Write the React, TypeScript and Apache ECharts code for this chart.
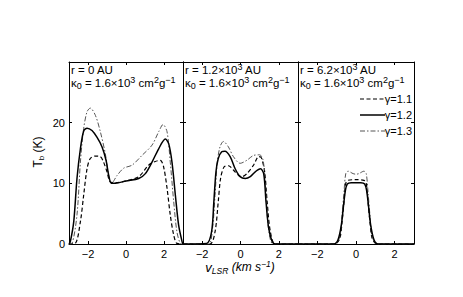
import React, { useEffect, useRef } from "react";
import * as echarts from "echarts";

// ---- data ----
const X_TICKS = [-2, 0, 2];
const Y_TICKS = [0, 10, 20];
const GAMMA_LABELS = ["γ=1.1", "γ=1.2", "γ=1.3"];

// Panel 1: r = 0 AU
const v0_g11 = [-3, -2.67, -2.4, -2.23, -2.05, -1.88, -1.61, -1.35, -1.18, -1.0, -0.82, -0.56, 0, 0.67, 1.19, 1.54, 1.81, 1.98, 2.16, 2.33, 2.51, 2.68, 3];
const t0_g11 = [0, 0.1, 3.7, 8.0, 12.4, 14.1, 14.5, 14.4, 13.5, 11.9, 10.2, 10.1, 10.4, 11.1, 13.0, 13.6, 13.8, 12.7, 9.2, 4.8, 1.5, 0.1, 0];
const v0_g12 = [-3, -2.93, -2.75, -2.58, -2.4, -2.23, -2.05, -1.79, -1.53, -1.26, -1.05, -0.91, -0.77, -0.56, 0, 0.67, 1.02, 1.37, 1.72, 2.07, 2.25, 2.42, 2.6, 2.77, 2.95, 3];
const t0_g12 = [0, 0.4, 3.7, 10.8, 15.7, 18.6, 19.1, 18.7, 17.6, 16.0, 13.8, 11.3, 10.0, 10.0, 10.4, 10.8, 11.6, 13.5, 15.7, 17.3, 16.5, 13.5, 8.0, 3.1, 0.4, 0];
const v0_g13 = [-3, -2.84, -2.58, -2.4, -2.23, -2.05, -1.88, -1.61, -1.35, -1.09, -0.91, -0.74, -0.47, -0.12, 0.32, 0.84, 1.37, 1.72, 1.95, 2.16, 2.33, 2.51, 2.68, 2.86, 3];
const t0_g13 = [0, 0.1, 4.8, 13.5, 19.0, 21.8, 22.4, 21.2, 18.5, 14.9, 11.3, 10.1, 11.3, 12.5, 13.0, 14.6, 16.3, 18.5, 19.7, 18.5, 13.5, 7.0, 2.0, 0.1, 0];

// Panel 2: r = 1.2e3 AU
const v1_g11 = [-3, -1.6, -1.33, -1.16, -1.04, -0.86, -0.63, -0.37, -0.1, 0.07, 0.33, 0.68, 0.95, 1.09, 1.26, 1.39, 1.56, 1.82, 3];
const t1_g11 = [0, 0, 2.0, 7.0, 10.8, 12.7, 12.9, 12.2, 11.3, 11.1, 11.6, 13.0, 14.4, 14.2, 11.9, 7.0, 2.0, 0, 0];
const v1_g12 = [-3, -1.77, -1.51, -1.39, -1.28, -1.16, -0.98, -0.81, -0.54, -0.28, -0.02, 0.25, 0.51, 0.77, 1.04, 1.21, 1.33, 1.47, 1.65, 1.82, 3];
const t1_g12 = [0, 0.1, 2.0, 7.0, 11.9, 14.1, 15.2, 15.3, 14.4, 12.4, 11.1, 10.8, 11.1, 11.9, 12.4, 11.6, 7.0, 2.6, 0.4, 0, 0];
const v1_g13 = [-3, -1.68, -1.46, -1.33, -1.21, -1.07, -0.89, -0.63, -0.37, -0.02, 0.33, 0.68, 1.0, 1.18, 1.3, 1.42, 1.56, 1.7, 3];
const t1_g13 = [0, 0, 2.6, 8.0, 13.5, 16.0, 16.9, 16.0, 14.4, 13.3, 13.8, 14.6, 14.7, 13.8, 9.7, 3.7, 0.7, 0, 0];

// Panel 3: r = 6.2e3 AU
const v2_g11 = [-3, -1.1, -0.84, -0.72, -0.62, -0.53, -0.41, 0, 0.41, 0.53, 0.62, 0.72, 0.84, 1.1, 3];
const t2_g11 = [0, 0, 0.9, 3.7, 7.0, 10.0, 10.5, 10.6, 10.5, 10.0, 7.0, 3.7, 0.9, 0, 0];
const v2_g12 = [-3, -1.15, -0.93, -0.76, -0.65, -0.55, -0.45, -0.25, 0, 0.25, 0.45, 0.55, 0.65, 0.76, 0.93, 1.15, 3];
const t2_g12 = [0, 0, 0.7, 3.1, 6.2, 8.8, 9.9, 10.1, 10.1, 10.1, 9.9, 8.8, 6.2, 3.1, 0.7, 0, 0];
const v2_g13 = [-3, -1.1, -0.84, -0.72, -0.62, -0.53, -0.41, -0.15, 0, 0.15, 0.41, 0.53, 0.62, 0.72, 0.84, 1.1, 3];
const t2_g13 = [0, 0, 1.2, 4.8, 8.6, 11.6, 12.0, 11.6, 11.5, 11.6, 12.0, 11.6, 8.6, 4.8, 1.2, 0, 0];

const PANEL_R = ["{n|r = 0 AU}", "{n|r = 1.2×10}{sup|3}{n| AU}", "{n|r = 6.2×10}{sup|3}{n| AU}"];
const KAPPA = "{n|κ}{sub|0}{n| = 1.6×10}{sup|3}{n| cm}{sup|2}{n|g}{sup|−1}";

const FONT = "'Liberation Sans', Arial, Helvetica, sans-serif";

const zip = (xs: number[], ys: number[]) => xs.map((x, i) => [x, ys[i]]);

const PANEL_DATA = [
  [zip(v0_g11, t0_g11), zip(v0_g12, t0_g12), zip(v0_g13, t0_g13)],
  [zip(v1_g11, t1_g11), zip(v1_g12, t1_g12), zip(v1_g13, t1_g13)],
  [zip(v2_g11, t2_g11), zip(v2_g12, t2_g12), zip(v2_g13, t2_g13)],
];

const LINE_STYLES = [
  { color: "#000", width: 1.2, type: [4, 2.5] as any },
  { color: "#000", width: 1.5, type: "solid" as any },
  { color: "#555", width: 1, type: [5, 2, 1.5, 2] as any },
];

const GRIDS = [
  { left: 69, top: 62, width: 114, height: 182 },
  { left: 183, top: 62, width: 115, height: 182 },
  { left: 298, top: 62, width: 116, height: 182 },
];

const richText = {
  n: { fontSize: 11.5, fontFamily: FONT, fill: "#000" },
  sup: { fontSize: 9, fontFamily: FONT, fill: "#000", padding: [0, 0, 7, 0] },
  sub: { fontSize: 9, fontFamily: FONT, fill: "#000", padding: [6, 0, 0, 0] },
};

const fmtX = (v: number) => (v < 0 ? "−" + Math.abs(v) : String(v));

export default function App() {
  const ref = useRef<HTMLDivElement>(null);
  useEffect(() => {
    if (!ref.current) return;
    const chart = echarts.init(ref.current, undefined, { renderer: "svg" });
    const axisLine = { show: true, onZero: false, lineStyle: { color: "#000", width: 1 } };
    const xAxis: any[] = [];
    const yAxis: any[] = [];
    GRIDS.forEach((_, i) => {
      xAxis.push({
        type: "value", gridIndex: i, min: -3, max: 3, position: "bottom",
        axisLine, splitLine: { show: false },
        axisTick: { show: true, inside: true, length: 3, customValues: X_TICKS, lineStyle: { color: "#000" } },
        axisLabel: { show: true, customValues: X_TICKS, formatter: fmtX, fontSize: 11, color: "#000", fontFamily: FONT, margin: 4 },
      });
      xAxis.push({
        type: "value", gridIndex: i, min: -3, max: 3, position: "top",
        axisLine, splitLine: { show: false },
        axisTick: { show: true, inside: true, length: 3, customValues: X_TICKS, lineStyle: { color: "#000" } },
        axisLabel: { show: false },
      });
      yAxis.push({
        type: "value", gridIndex: i, min: 0, max: 30, interval: 10, position: "left",
        axisLine, splitLine: { show: false },
        axisTick: { show: true, inside: true, length: 3, lineStyle: { color: "#000" } },
        axisLabel: i === 0
          ? { show: true, customValues: Y_TICKS, fontSize: 11, color: "#000", fontFamily: FONT, margin: 4 }
          : { show: false },
      });
      yAxis.push({
        type: "value", gridIndex: i, min: 0, max: 30, interval: 10, position: "right",
        axisLine, splitLine: { show: false },
        axisTick: { show: true, inside: true, length: 3, lineStyle: { color: "#000" } },
        axisLabel: { show: false },
      });
    });

    const series: any[] = [];
    PANEL_DATA.forEach((curves, i) => {
      [0, 2, 1].forEach((k) => {
        series.push({
          type: "line", name: GAMMA_LABELS[k], xAxisIndex: i * 2, yAxisIndex: i * 2,
          data: curves[k], symbol: "none", showSymbol: false, smooth: 0.3,
          lineStyle: LINE_STYLES[k], silent: true, z: k === 1 ? 3 : 2,
        });
      });
    });

    const graphic: any[] = [];
    GRIDS.forEach((g, i) => {
      graphic.push({
        type: "text", x: g.left + 2, y: 70, silent: true,
        style: { text: PANEL_R[i], rich: richText, verticalAlign: "middle", align: "left" },
      });
      graphic.push({
        type: "text", x: g.left + 2, y: 83, silent: true,
        style: { text: KAPPA, rich: richText, verticalAlign: "middle", align: "left" },
      });
    });
    // legend in the right panel
    const legendY = [99, 115, 131];
    GAMMA_LABELS.forEach((lab, k) => {
      const ls = LINE_STYLES[k];
      graphic.push({
        type: "line", silent: true,
        shape: { x1: 360, y1: legendY[k], x2: 385, y2: legendY[k] },
        style: { stroke: ls.color, lineWidth: ls.width, lineDash: Array.isArray(ls.type) ? ls.type : null },
      });
      graphic.push({
        type: "text", x: 412, y: legendY[k], silent: true,
        style: { text: lab, fontSize: 11, fontFamily: FONT, fill: "#000", verticalAlign: "middle", align: "right" },
      });
    });
    // y axis title
    graphic.push({
      type: "text", x: 38, y: 152, rotation: Math.PI / 2, silent: true,
      style: {
        text: "{n|T}{sub|b}{n| (K)}",
        rich: {
          n: { fontSize: 12, fontFamily: FONT, fill: "#000" },
          sub: { fontSize: 8, fontFamily: FONT, fill: "#000", padding: [6, 0, 0, 0] },
        },
        align: "center", verticalAlign: "middle",
      },
    });
    // x axis title
    graphic.push({
      type: "text", x: 240, y: 267, silent: true,
      style: {
        text: "{v|v}{sub|LSR}{n| (km s}{sup|−1}{n|)}",
        rich: {
          v: { fontSize: 13, fontFamily: FONT, fontStyle: "italic", fill: "#000" },
          n: { fontSize: 12, fontFamily: FONT, fontStyle: "italic", fill: "#000" },
          sub: { fontSize: 8.5, fontFamily: FONT, fontStyle: "italic", fill: "#000", padding: [7, 0, 0, 0] },
          sup: { fontSize: 8.5, fontFamily: FONT, fontStyle: "italic", fill: "#000", padding: [0, 0, 7, 0] },
        },
        align: "center", verticalAlign: "middle",
      },
    });

    chart.setOption({
      animation: false,
      backgroundColor: "#fff",
      grid: GRIDS.map((g) => ({ ...g, containLabel: false })),
      xAxis,
      yAxis,
      series,
      graphic,
    });
    return () => chart.dispose();
  }, []);
  return <div ref={ref} style={{ position: "absolute", left: 0, top: 0, width: 463, height: 297 }} />;
}
